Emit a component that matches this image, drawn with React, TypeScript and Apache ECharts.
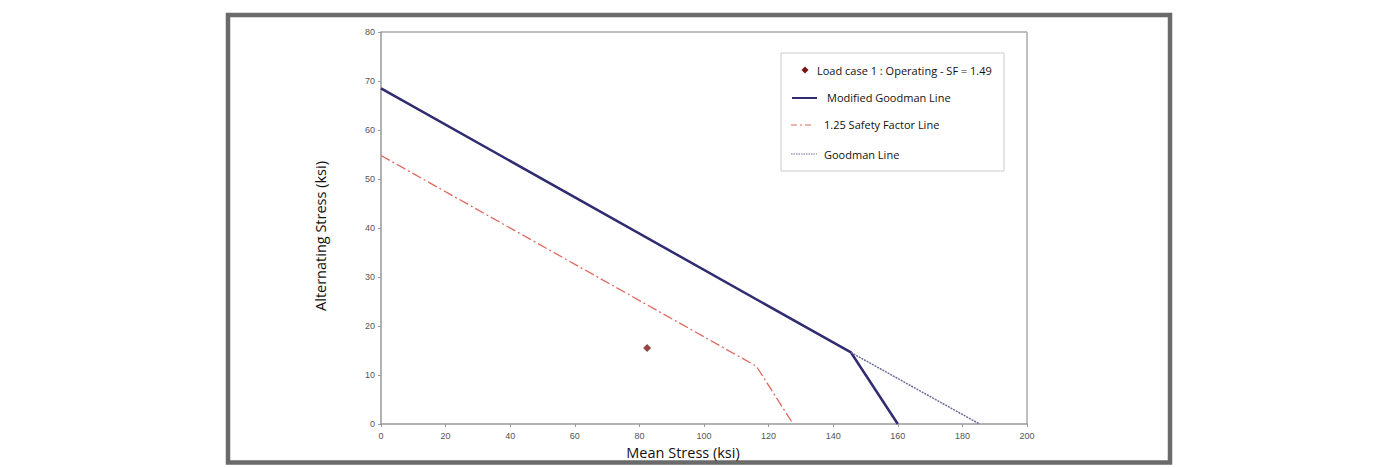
import React, { useEffect, useRef } from "react";
import * as echarts from "echarts";

const xTicks = [0, 20, 40, 60, 80, 100, 120, 140, 160, 180, 200];
const yTicks = [0, 10, 20, 30, 40, 50, 60, 70, 80];

const modifiedGoodman: [number, number][] = [[0, 68.5], [145.5, 14.6], [160, 0]];
const safetyFactorLine: [number, number][] = [[0, 54.8], [116.2, 11.8], [127.6, 0]];
const goodmanLine: [number, number][] = [[145.5, 14.6], [185.3, 0]];
const loadCase: [number, number][] = [[82.4, 15.5]];

const legendLabels = [
  "Load case 1 : Operating - SF = 1.49",
  "Modified Goodman Line",
  "1.25 Safety Factor Line",
  "Goodman Line",
];

const NAVY = "#2f2c72";
const RED = "#e0685e";
const DOT = "#6c6c9a";
const PT = "#7a1414";

export default function App() {
  const ref = useRef<HTMLDivElement>(null);
  useEffect(() => {
    const chart = echarts.init(ref.current!, undefined, { renderer: "svg" });
    const tickFont = { fontFamily: "Liberation Sans", fontSize: 9, color: "#555" };
    const nameFont = "Open Sans";
    chart.setOption({
      animation: false,
      grid: { left: 381, right: 373, top: 32, bottom: 44 },
      xAxis: {
        type: "value", min: xTicks[0], max: xTicks[xTicks.length - 1], interval: 20,
        axisLine: { show: true, lineStyle: { color: "#999", width: 1.5 } },
        axisTick: { show: true, length: 3, lineStyle: { color: "#999" } },
        axisLabel: { ...tickFont, margin: 7 },
        splitLine: { show: false },
      },
      yAxis: {
        type: "value", min: yTicks[0], max: yTicks[yTicks.length - 1], interval: 10,
        axisLine: { show: true, lineStyle: { color: "#999", width: 1.5 } },
        axisTick: { show: true, length: 3, lineStyle: { color: "#999" } },
        axisLabel: { ...tickFont, margin: 6 },
        splitLine: { show: false },
      },
      series: [
        {
          name: legendLabels[1], type: "line", data: modifiedGoodman, symbol: "none",
          lineStyle: { color: NAVY, width: 2.5 }, z: 3,
        },
        {
          name: legendLabels[2], type: "line", data: safetyFactorLine, symbol: "none",
          lineStyle: { color: RED, width: 1.3, type: [10, 3, 2, 3] },
        },
        {
          name: legendLabels[3], type: "line", data: goodmanLine, symbol: "none",
          lineStyle: { color: DOT, width: 1.5, type: [2, 1] },
        },
        {
          name: legendLabels[0], type: "scatter", data: loadCase, symbol: "diamond",
          symbolSize: 8, itemStyle: { color: PT },
        },
      ],
      graphic: [
        { type: "rect", shape: { x: 228, y: 15, width: 942, height: 447.5 }, style: { fill: "none", stroke: "#6a6a6a", lineWidth: 4.5 } },
        { type: "line", shape: { x1: 381, y1: 32, x2: 1027, y2: 32 }, style: { stroke: "#aaa", lineWidth: 1.5 } },
        { type: "line", shape: { x1: 1027, y1: 32, x2: 1027, y2: 424 }, style: { stroke: "#aaa", lineWidth: 1.5 } },
        { type: "text", x: 683, y: 452, style: { text: "Mean Stress (ksi)", fontFamily: nameFont, fontSize: 14.5, fill: "#111", align: "center", verticalAlign: "middle" } },
        { type: "text", x: 320, y: 236, rotation: Math.PI / 2, style: { text: "Alternating Stress (ksi)", fontFamily: nameFont, fontSize: 14.5, fill: "#111", align: "center", verticalAlign: "middle" } },
        { type: "rect", shape: { x: 781, y: 53, width: 223, height: 118 }, style: { fill: "#fff", stroke: "#ccc", lineWidth: 1 } },
        { type: "polygon", shape: { points: [[805, 66.5], [808.5, 70], [805, 73.5], [801.5, 70]] }, style: { fill: PT } },
        { type: "text", x: 817, y: 70, style: { text: legendLabels[0], fontFamily: nameFont, fontSize: 11, fill: "#111", verticalAlign: "middle" } },
        { type: "line", shape: { x1: 792, y1: 98, x2: 817, y2: 98 }, style: { stroke: NAVY, lineWidth: 2 } },
        { type: "text", x: 827, y: 97, style: { text: legendLabels[1], fontFamily: nameFont, fontSize: 11, fill: "#111", verticalAlign: "middle" } },
        { type: "line", shape: { x1: 791, y1: 125, x2: 814, y2: 125 }, style: { stroke: RED, lineWidth: 1.2, lineDash: [6, 3, 2, 3] } },
        { type: "text", x: 824, y: 124, style: { text: legendLabels[2], fontFamily: nameFont, fontSize: 11, fill: "#111", verticalAlign: "middle" } },
        { type: "line", shape: { x1: 791, y1: 154, x2: 817, y2: 154 }, style: { stroke: DOT, lineWidth: 1.2, lineDash: [1.5, 1] } },
        { type: "text", x: 824, y: 154, style: { text: legendLabels[3], fontFamily: nameFont, fontSize: 11, fill: "#111", verticalAlign: "middle" } },
      ],
    });
    return () => chart.dispose();
  }, []);
  return <div ref={ref} style={{ position: "fixed", left: 0, top: 0, width: 1400, height: 468, background: "#fff" }} />;
}
